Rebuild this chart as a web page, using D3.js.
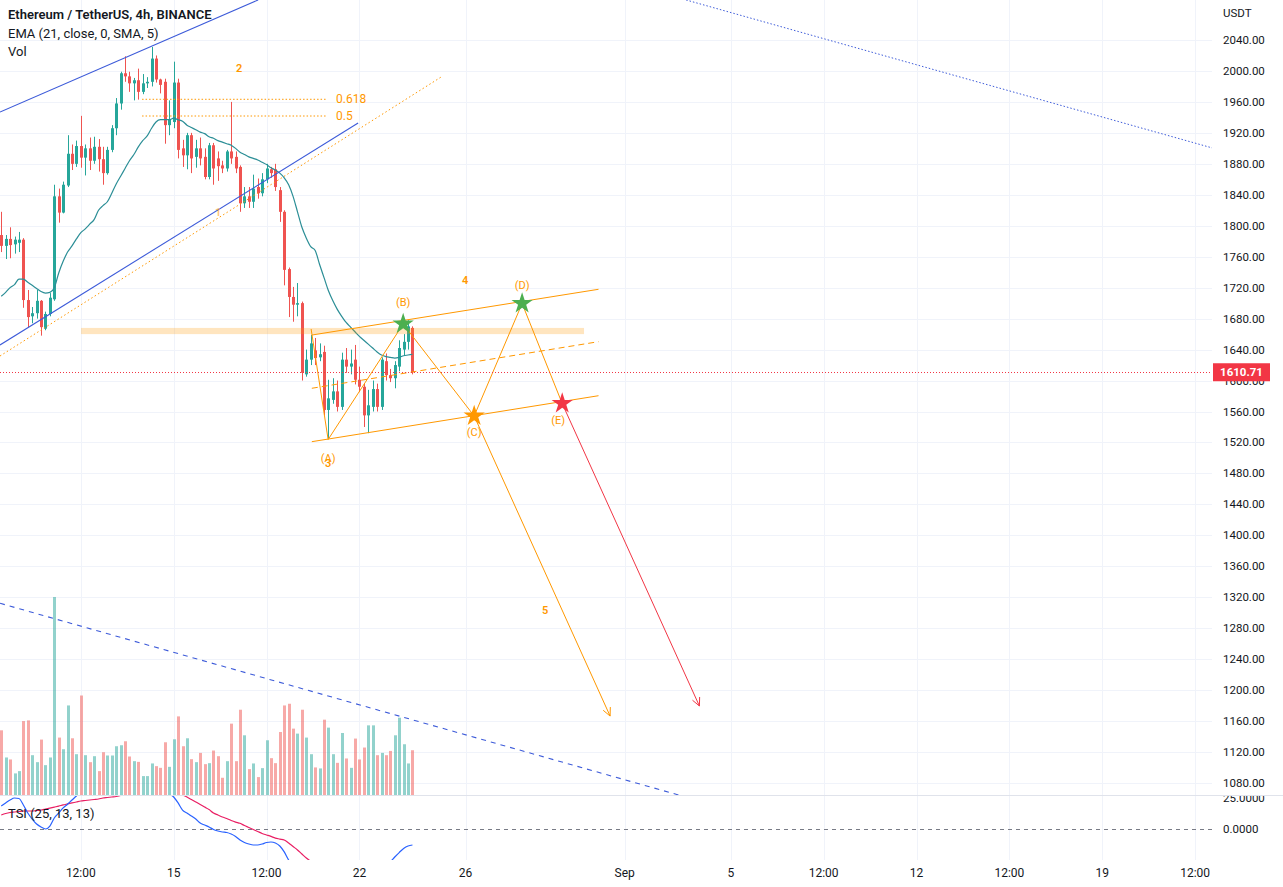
<!DOCTYPE html>
<html><head><meta charset="utf-8">
<script src="https://cdnjs.cloudflare.com/ajax/libs/d3/7.8.5/d3.min.js"></script>
<style>
html,body{margin:0;padding:0;background:#fff;}
svg{display:block;font-family:Roboto,"Open Sans",sans-serif;}
</style></head><body>
<svg id="chart" width="1283" height="887"></svg>
<script>
// ---------------- DATA ----------------
const symbolTitle = "Ethereum / TetherUS, 4h, BINANCE";
const emaTitle = "EMA (21, close, 0, SMA, 5)";
const volTitle = "Vol";
const tsiTitle = "TSI (25, 13, 13)";
const currencyLabel = "USDT";
const firstBarTime = "2022-08-08T12:00:00Z";
const barHours = 4;
const lastPrice = 1610.71;

const opens = [1788,1774,1783,1776,1778,1782,1704,1683,1687,1703,
1667,1686,1705,1838,1817,1852,1893,1880,1903,1888,
1900,1884,1902,1886,1868,1898,1926,1958,1997,1993,
1984,1988,1973,1984,1986,2016,1989,1986,1930,1934,
1985,1900,1891,1917,1889,1900,1889,1863,1904,1887,
1878,1874,1896,1889,1876,1829,1838,1831,1850,1842,
1860,1873,1873,1846,1818,1744,1708,1698,1700,1608,
1627,1639,1630,1637,1562,1575,1586,1566,1627,1618,
1627,1601,1592,1555,1566,1589,1566,1625,1607,1603,
1618,1640,1650,1668];
const highs = [1818,1788,1798,1786,1792,1784,1717,1695,1717,1704,
1689,1713,1853,1848,1857,1917,1905,1910,1942,1905,
1914,1915,1912,1902,1902,1930,1965,1999,2019,1999,
1991,2003,1996,1992,2031,2020,1990,1990,1962,2012,
1990,1911,1920,1920,1911,1914,1900,1907,1907,1896,
1884,1898,1960,1896,1878,1850,1850,1866,1861,1868,
1880,1876,1880,1850,1820,1746,1721,1726,1702,1640,
1659,1655,1648,1645,1601,1603,1600,1636,1642,1640,
1646,1618,1596,1588,1600,1596,1630,1635,1615,1625,
1652,1660,1678,1670];
const lows = [1766,1757,1758,1764,1766,1694,1669,1674,1680,1658,
1665,1683,1703,1804,1816,1850,1872,1876,1875,1865,
1872,1880,1870,1853,1866,1895,1917,1950,1986,1973,
1962,1963,1970,1978,1980,1985,1971,1906,1917,1926,
1887,1876,1873,1868,1875,1878,1860,1860,1853,1858,
1868,1870,1880,1868,1818,1823,1823,1823,1835,1838,
1855,1862,1845,1805,1723,1682,1676,1683,1600,1605,
1620,1620,1625,1555,1525,1570,1560,1562,1610,1608,
1595,1585,1540,1532,1560,1560,1562,1600,1598,1590,
1612,1632,1640,1608];
const closes = [1774,1783,1775,1782,1782,1704,1682,1687,1703,1669,
1686,1707,1838,1817,1853,1893,1880,1903,1888,1900,
1884,1902,1886,1868,1898,1926,1958,1997,1993,1984,
1988,1973,1984,1986,2016,1989,1982,1930,1937,1985,
1898,1891,1917,1887,1900,1887,1863,1904,1874,1877,
1874,1896,1887,1874,1829,1838,1831,1848,1842,1860,
1874,1868,1850,1818,1743,1708,1698,1700,1610,1627,
1648,1629,1634,1562,1577,1586,1566,1627,1618,1622,
1601,1592,1555,1568,1589,1566,1627,1607,1603,1620,
1642,1650,1670,1610.71];
// volume, thousand ETH
const volumes = [65,37.7,35.7,21.7,24,74.3,75,40,33,55.7,
30,37.7,199,57.7,46,90,57,41,100,40,
33,39,24,43,39.7,39.7,49,50,54,38.7,
34,33.3,19,19,31.7,29,27.3,53,28.3,56,
79,49,57,36,33,42.3,31,32,44.7,39,
17.3,34,71.7,34,85.7,60,26,31.7,18,27,
55,37,32,63.3,90,91.7,66.7,61.7,85.7,57.7,
41,27.7,26.7,75.7,67.7,41,32.3,62.3,36.7,27.3,
56.7,35.7,47.7,70,70,40,42.3,40,44.3,60,
77.7,51,31.7,45];
const emaValues = [1709,1714,1720,1724,1731,1731,1727,1723,1719,1715,
1713,1714,1720,1739,1754,1766,1774,1783,1791,1796,
1802,1808,1820,1826,1831,1842,1854,1864,1874,1884,
1892,1902,1910,1916,1926,1934,1937,1937,1937,1939,
1937,1935,1930,1927,1924,1921,1919,1915,1913,1910,
1908,1906,1904,1900,1895,1892,1889,1887,1885,1882,
1879,1875,1872,1868,1862,1853,1838,1818,1798,1784,
1773,1768,1750,1733,1716,1703,1692,1683,1675,1669,
1663,1657,1652,1647,1642,1637,1633,1631,1630,1629,
1630,1632,1633,1634];
const tsiValues = [18.5,21,23.4,25,24.6,19.4,12.9,8,4,1.6,
0,2.4,8.9,12.9,17,20,23.4,26.6,30,32,
34,36,38,40,42,44,46,48,49,50,
50,50,49,48,48,46,42,37,29,25.8,
21,15.3,12.9,10.5,8,4.8,3.2,1.6,-0.4,-1.6,
-2.4,-2.8,-4,-6,-8.9,-10.9,-12.1,-12.9,-12.9,-12.1,
-10.9,-10.5,-11.3,-13.7,-18.5,-25,-29,-33,-38,-41,
-43,-45,-46,-48,-50,-50,-50,-49,-48,-48,
-46,-45,-44,-43,-40,-37,-34,-30,-26.5,-22.6,
-19,-15.7,-13.7,-12.9];
const tsiSignal = [11.3,12.5,13.3,13.7,14.1,14.5,14.5,14.5,14.9,15.3,
16.1,16.9,17.7,18.5,19.4,20.2,21,21.8,22.6,23,
23.4,23.8,24.2,25,25.4,25.8,26.2,27,28.5,30,
31.5,33,34,35,35.5,35.5,35,34,32,30.5,
29,27.5,25.8,23.8,21.8,19.8,17.7,15.7,12.9,11.3,
9.7,8.5,6.9,5.6,4.6,2.8,1.2,-0.4,-2,-3.6,
-4.8,-6,-7.3,-8.1,-8.9,-11.3,-14.1,-16.9,-20.2,-23.4,
-26,-28,-30,-32,-34,-36,-37.5,-39,-40,-41,
-42,-42.5,-43,-43,-43,-42.5,-42,-41,-40,-39,
-38,-37,-36,-35];

const priceTicks = [2040,2000,1960,1920,1880,1840,1800,1760,1720,1680,1640,1600,1560,1520,1480,1440,1400,1360,1320,1280,1240,1200,1160,1120,1080];
const tsiTicks = [25, 0];
const tsiTickLabels = ["25.0000","0.0000"];
const timeTicks = ["2022-08-11T12:00:00Z","2022-08-15T00:00:00Z","2022-08-18T12:00:00Z","2022-08-22T00:00:00Z","2022-08-26T00:00:00Z","2022-09-01T00:00:00Z","2022-09-05T00:00:00Z","2022-09-08T12:00:00Z","2022-09-12T00:00:00Z","2022-09-15T12:00:00Z","2022-09-19T00:00:00Z","2022-09-22T12:00:00Z"];
const timeTickLabels = ["12:00","15","12:00","22","26","Sep","5","12:00","12","12:00","19","12:00"];

// drawings: points are [bar index (fractional, may be in the future), price]
const trendUpper = [[-0.28,1947],[58.09,2091.7]];
const trendLower = [[-0.28,1645.9],[80.71,1932.8]];
const trendOrangeDotted = [[-0.28,1631.7],[99.49,1992.2]];
const trendTopRightDotted = [[154.9,2091.7],[273.9,1900.5]];
const trendVolumeDashed = [[-0.28,1312.2],[154.0,1063.2]];
const fibLevels = [1963.4, 1941.8];
const fibLabels = ["0.618","0.5"];
const fibBarRange = [31.85, 73.7];
const zoneBarRange = [18.04, 131.8];
const zonePrices = [1660, 1668];
const wavePath = [[70.08,1666.6],[73.93,1523.8],[90.9,1673],[106.96,1554.2],[117.8,1699.5],[126.87,1570.3]];
const channelUpper = [[70.24,1658.8],[135.08,1717.9]];
const channelLower = [[70.24,1521],[135.08,1580.4]];
const channelMid = [[70.24,1590],[135.08,1650.2]];
const arrowOrange = [[106.96,1554.2],[137.7,1166.5]];
const arrowRed = [[126.87,1570.3],[157.9,1179.5]];
const starPoints = [[90.9,1673],[106.96,1554.2],[117.8,1699.5],[126.87,1570.3]];
const starKinds = ["green","orange","green","red"];
const waveLabels = ["2","1","4","5","(A)","3","(B)","(C)","(D)","(E)"];
const waveLabelPoints = [[53.8,2003.8],[49.04,1817.8],[104.9,1729.9],[123.0,1303.5],[73.93,1499.9],[73.93,1494.0],[90.9,1701.5],[106.96,1533.5],[117.8,1723.4],[125.96,1549]];

// ---------------- LAYOUT ----------------
const plotRight = 1212, mainBottom = 795, tsiTop = 795, tsiBottom = 860;
const t0 = Date.parse(firstBarTime), hourMs = 3600e3;
const barTime = i => new Date(t0 + i*barHours*hourMs);
const x = d3.scaleUtc().domain([new Date(t0), new Date(t0 + 40*24*hourMs)]).range([1.24, 1.24 + 40*26.53]);
const y = d3.scaleLinear().domain([1080, 2040]).range([783, 40]);
const yVol = d3.scaleLinear().domain([0, 200]).range([mainBottom, 596]);
const yTsi = d3.scaleLinear().domain([-25, 25]).range([860, 798]);
const px = p => [x(barTime(p[0])), y(p[1])];

const C = {up:"#26a69a", down:"#ef5350", upVol:"rgba(38,166,154,0.5)", downVol:"rgba(239,83,80,0.5)",
  grid:"#f0f3fa", text:"#131722", orange:"#ff9800", blue:"#3f5fe0", red:"#f23645", green:"#4caf50", ema:"#2b8e96"};

const svg = d3.select("#chart");
const defs = svg.append("defs");
defs.append("clipPath").attr("id","clipMain").append("rect").attr("x",0).attr("y",0).attr("width",plotRight).attr("height",mainBottom);
defs.append("clipPath").attr("id","clipTsi").append("rect").attr("x",0).attr("y",tsiTop).attr("width",plotRight).attr("height",tsiBottom-tsiTop);
defs.append("clipPath").attr("id","clipTsiAxis").append("rect").attr("x",plotRight).attr("y",tsiTop+1).attr("width",80).attr("height",tsiBottom-tsiTop);

svg.append("rect").attr("width",1283).attr("height",887).attr("fill","#fff");

// grid
const grid = svg.append("g");
grid.selectAll("line.h").data(priceTicks).join("line")
  .attr("x1",0).attr("x2",plotRight).attr("y1",d=>Math.round(y(d))+0.5).attr("y2",d=>Math.round(y(d))+0.5)
  .attr("stroke",C.grid);
grid.selectAll("line.v").data(timeTicks).join("line")
  .attr("x1",d=>Math.round(x(new Date(d)))+0.5).attr("x2",d=>Math.round(x(new Date(d)))+0.5)
  .attr("y1",0).attr("y2",tsiBottom).attr("stroke",C.grid);

const bars = opens.map((o,i)=>({i, t:barTime(i), o, h:highs[i], l:lows[i], c:closes[i], v:volumes[i]}));

// main pane
const main = svg.append("g").attr("clip-path","url(#clipMain)");
// volume
main.append("g").selectAll("rect").data(bars).join("rect")
  .attr("x",d=>Math.round(x(d.t))-1).attr("width",3)
  .attr("y",d=>yVol(d.v)).attr("height",d=>mainBottom-yVol(d.v))
  .attr("fill",d=>d.c>=d.o?C.upVol:C.downVol);

// candles
const cg = main.append("g");
cg.selectAll("line").data(bars).join("line")
  .attr("x1",d=>Math.round(x(d.t))+0.5).attr("x2",d=>Math.round(x(d.t))+0.5)
  .attr("y1",d=>y(d.h)).attr("y2",d=>y(d.l))
  .attr("stroke",d=>d.c>=d.o?C.up:C.down).attr("stroke-width",1);
cg.selectAll("rect").data(bars).join("rect")
  .attr("x",d=>Math.round(x(d.t))-1).attr("width",3)
  .attr("y",d=>y(Math.max(d.o,d.c))).attr("height",d=>Math.max(1,Math.abs(y(d.o)-y(d.c))))
  .attr("fill",d=>d.c>=d.o?C.up:C.down);

// EMA
main.append("path").datum(emaValues)
  .attr("d", d3.line().x((d,i)=>x(barTime(i))).y(d=>y(d)).curve(d3.curveMonotoneX))
  .attr("fill","none").attr("stroke",C.ema).attr("stroke-width",1.2);

// drawings
const line2 = (pts, stroke, dash, width) => main.append("path")
  .attr("d", d3.line()(pts.map(px))).attr("fill","none").attr("stroke",stroke)
  .attr("stroke-width",width||1).attr("stroke-dasharray",dash||null);

// zone band
main.append("rect")
  .attr("x", x(barTime(zoneBarRange[0]))).attr("width", x(barTime(zoneBarRange[1]))-x(barTime(zoneBarRange[0])))
  .attr("y", y(zonePrices[1])).attr("height", y(zonePrices[0])-y(zonePrices[1]))
  .attr("fill","rgba(255,152,0,0.25)");

line2(trendUpper, "#3d5bd9", null, 1.1);
line2(trendLower, "#3d5bd9", null, 1.1);
line2(trendOrangeDotted, C.orange, "1.5,2.5", 1);
line2(trendTopRightDotted, "#3d5bd9", "1.5,2", 1);
line2(trendVolumeDashed, "#3d5bd9", "5,5", 1.1);

fibLevels.forEach((p,k)=>{
  line2([[fibBarRange[0],p],[fibBarRange[1],p]], C.orange, "1.5,2", 1);
  main.append("text").attr("x", x(barTime(fibBarRange[1]))+9).attr("y", y(p)+4)
    .attr("fill", C.orange).attr("font-size",12).text(fibLabels[k]);
});

// wave channel
line2(channelUpper, C.orange, null, 1);
line2(channelLower, C.orange, null, 1);
line2(channelMid, C.orange, "6,4", 1);
line2(wavePath, C.orange, null, 1);

// arrows
function arrow(pts, color){
  line2(pts, color, null, 1);
  const [a,b] = pts.map(px);
  const ang = Math.atan2(b[1]-a[1], b[0]-a[0]);
  const L = 9, s = 0.45;
  const p1 = [b[0]-L*Math.cos(ang-s), b[1]-L*Math.sin(ang-s)];
  const p2 = [b[0]-L*Math.cos(ang+s), b[1]-L*Math.sin(ang+s)];
  main.append("path").attr("d", d3.line()([p1,b,p2])).attr("fill","none").attr("stroke",color).attr("stroke-width",1);
}
arrow(arrowOrange, C.orange);
arrow(arrowRed, C.red);

// stars
const starColor = {green:C.green, orange:C.orange, red:C.red};
main.selectAll("path.star").data(starPoints).join("path")
  .attr("class","star")
  .attr("transform", d=>{const p=px(d); return `translate(${p[0]},${p[1]})`;})
  .attr("d", d3.symbol().type(d3.symbolStar).size(140))
  .attr("fill",(d,i)=>starColor[starKinds[i]]);

// wave labels
main.selectAll("text.wl").data(waveLabels).join("text")
  .attr("class","wl")
  .attr("x",(d,i)=>px(waveLabelPoints[i])[0]).attr("y",(d,i)=>px(waveLabelPoints[i])[1]+4)
  .attr("text-anchor","middle").attr("font-size",11)
  .attr("font-weight",(d,i)=>d.length===1?600:400)
  .attr("fill",C.orange).attr("opacity",d=>d==="1"?0.55:1)
  .text(d=>d);

// last price line
main.append("line").attr("x1",0).attr("x2",plotRight)
  .attr("y1",Math.round(y(lastPrice))+0.5).attr("y2",Math.round(y(lastPrice))+0.5)
  .attr("stroke",C.red).attr("stroke-dasharray","1,2");

// TSI pane
const tsi = svg.append("g").attr("clip-path","url(#clipTsi)");
tsi.append("line").attr("x1",0).attr("x2",plotRight).attr("y1",Math.round(yTsi(0))+0.5).attr("y2",Math.round(yTsi(0))+0.5)
  .attr("stroke","#787b86").attr("stroke-dasharray","4,4");
tsi.append("path").datum(tsiSignal)
  .attr("d", d3.line().x((d,i)=>x(barTime(i))).y(d=>yTsi(d)).curve(d3.curveMonotoneX))
  .attr("fill","none").attr("stroke","#e91e63").attr("stroke-width",1.2);
tsi.append("path").datum(tsiValues)
  .attr("d", d3.line().x((d,i)=>x(barTime(i))).y(d=>yTsi(d)).curve(d3.curveMonotoneX))
  .attr("fill","none").attr("stroke","#2962ff").attr("stroke-width",1.2);

// pane separator
svg.append("line").attr("x1",0).attr("x2",1283).attr("y1",mainBottom+0.5).attr("y2",mainBottom+0.5).attr("stroke","#e0e3eb");

// right axis
const ax = svg.append("g").attr("font-size",11.5).attr("fill",C.text);
ax.append("text").attr("x",1223).attr("y",17).text(currencyLabel);
ax.selectAll("text.p").data(priceTicks).join("text").attr("class","p")
  .attr("x",1223).attr("y",d=>y(d)+4).text(d=>d.toFixed(2));
const tAx = svg.append("g").attr("clip-path","url(#clipTsiAxis)").attr("font-size",11.5).attr("fill",C.text);
tAx.selectAll("text").data(tsiTicks).join("text")
  .attr("x",1223).attr("y",d=>yTsi(d)+4).text((d,i)=>tsiTickLabels[i]);

// last price tag
const ly = y(lastPrice);
svg.append("rect").attr("x",1213).attr("y",ly-9).attr("width",57).attr("height",18).attr("fill",C.red);
svg.append("text").attr("x",1241.5).attr("y",ly+4).attr("text-anchor","middle").attr("font-size",11.5)
  .attr("font-weight",700).attr("fill","#fff").text(lastPrice.toFixed(2));

// time axis
svg.append("g").attr("font-size",12).attr("fill",C.text).selectAll("text").data(timeTicks).join("text")
  .attr("x",d=>x(new Date(d))).attr("y",877).attr("text-anchor","middle").text((d,i)=>timeTickLabels[i]);

// legends
const lg = svg.append("g").attr("fill",C.text).attr("font-size",13);
lg.append("text").attr("x",8).attr("y",19).attr("font-weight",600).text(symbolTitle);
lg.append("text").attr("x",8).attr("y",38).text(emaTitle);
lg.append("text").attr("x",8).attr("y",56).text(volTitle);
lg.append("text").attr("x",8).attr("y",818).text(tsiTitle);
</script>
</body></html>
